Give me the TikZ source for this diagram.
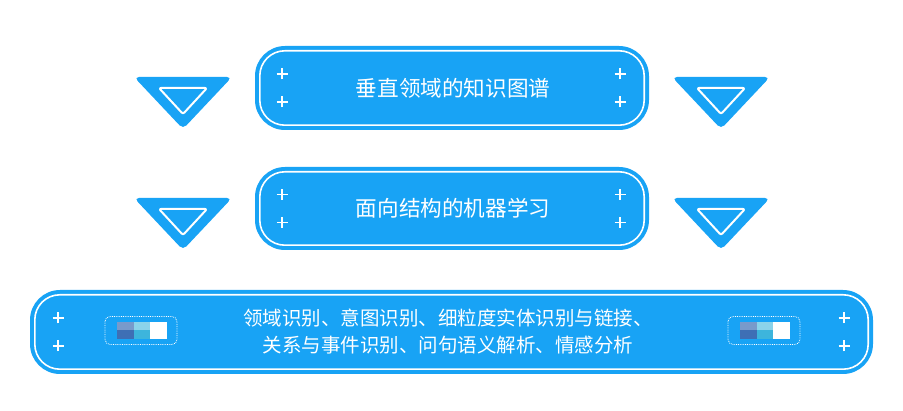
\documentclass[tikz,border=0pt]{standalone}
\usepackage{fontspec}
\newfontfamily\cjk{Noto Sans CJK SC}
\usetikzlibrary{positioning}
\definecolor{skyblue}{HTML}{18A3F5}
\definecolor{chipdark}{HTML}{3E6FB5}
\definecolor{chipteal}{HTML}{3DB5DC}
\tikzset{crossmark/.pic={\draw[white, line width=1.3pt] (-5.5pt,0) -- (5.5pt,0) (0,-5.5pt) -- (0,5.5pt);}}

\begin{document}
\begin{tikzpicture}[x=1pt, y=-1pt, panel/.style={rounded corners=30pt, fill=skyblue, draw=none, inner sep=0pt}, title/.style={font=\cjk\fontsize{21.6}{24}\selectfont, text=white}, note/.style={font=\cjk\fontsize{19.5}{27}\selectfont, text=white, align=center}, rim/.style={draw=white, line width=1.6pt, rounded corners=25pt}, wedge/.style={fill=skyblue, rounded corners=5pt}, wedgein/.style={draw=white, line width=2pt, rounded corners=2pt, line join=round}]
    \useasboundingbox (0,0) rectangle (903,411);

    %Boxes
    \node[panel, minimum width=394pt, minimum height=84pt](graph) at (452,88){};
    \node[panel, minimum width=394pt, minimum height=83pt](learn) at (452,208.5){};
    \node[panel, minimum width=843pt, minimum height=84pt](tasks) at (451.5,332){};
    \foreach \b in {graph, learn, tasks}
      \draw[rim] ([shift={(5pt,-5pt)}]\b.north west) rectangle ([shift={(-5pt,5pt)}]\b.south east);

    %Texts
    \node[title](graphtext) at (453,88){垂直领域的知识图谱};
    \node[title](learntext) at (453,208.5){面向结构的机器学习};
    \node[note](taskstext) at (448,332){领域识别、意图识别、细粒度实体识别与链接、\\ 关系与事件识别、问句语义解析、情感分析};

    %Crosses
    \foreach \b/\l/\r in {graph/282/620, learn/282/620, tasks/58/844} {
      \path (\l,0 |- \b) pic[yshift=14pt]{crossmark} pic[yshift=-14pt]{crossmark};
      \path (\r,0 |- \b) pic[yshift=14pt]{crossmark} pic[yshift=-14pt]{crossmark};
    }

    %Wedges
    \foreach \cx/\ty in {183/77, 721/77, 183/198, 721/198} {
      \path[wedge] (\cx-49,\ty) -- (\cx+49,\ty) -- (\cx,\ty+52) -- cycle;
      \draw[wedgein] (\cx-24,\ty+11) -- (\cx+24,\ty+11) -- (\cx,\ty+37) -- cycle;
    }

    %Chips
    \foreach \x in {105, 728} {
      \draw[white, densely dotted, line width=0.8pt, rounded corners=5pt] (\x,316.5) rectangle (\x+72,344.5);
      \fill[chipdark] (\x+12,322) rectangle (\x+29,339);
      \fill[chipdark!70!white] (\x+12,322) rectangle (\x+29,330);
      \fill[chipteal] (\x+29,322) rectangle (\x+45,339);
      \fill[chipteal!60!white] (\x+29,322) rectangle (\x+45,330);
      \fill[white] (\x+45,322) rectangle (\x+62,339);
    }
\end{tikzpicture}
\end{document}
